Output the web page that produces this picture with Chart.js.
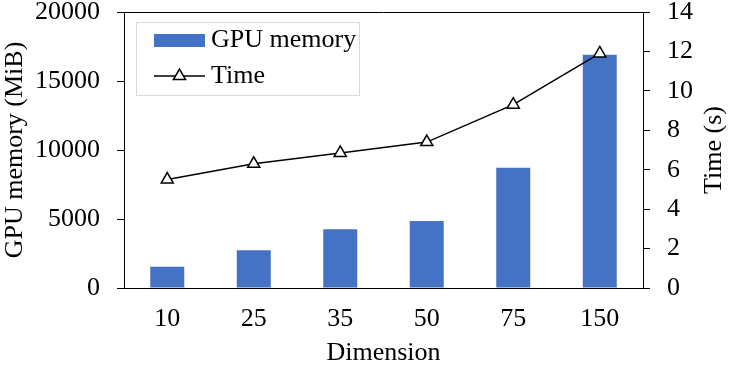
<!DOCTYPE html>
<html>
<head>
<meta charset="utf-8">
<script src="https://cdn.jsdelivr.net/npm/chart.js@4/dist/chart.umd.min.js"></script>
<style>
html,body{margin:0;padding:0;background:#fff;}
#wrap{width:730px;height:368px;position:relative;}
</style>
</head>
<body>
<div id="wrap"><canvas id="c" width="730" height="368"></canvas></div>
<script>
const categories = ["10", "25", "35", "50", "75", "150"];
const gpuMemory = [1540, 2730, 4250, 4850, 8720, 16900];
const timeSec = [5.5, 6.3, 6.85, 7.4, 9.3, 11.9];
const memoryTicks = [0, 5000, 10000, 15000, 20000];
const timeTicks = [0, 2, 4, 6, 8, 10, 12, 14];
const rightTitle = 'Time (s)';

const FONT = "'Liberation Serif', 'Times New Roman', serif";
const BLUE = '#4472C4';

const extras = {
  id: 'extras',
  afterDraw(chart) {
    const ctx = chart.ctx;
    const a = chart.chartArea;
    ctx.save();
    ctx.strokeStyle = '#000';
    ctx.lineWidth = 1;
    ctx.beginPath();
    ctx.moveTo(a.left, a.top + 0.5);
    ctx.lineTo(a.right, a.top + 0.5);
    ctx.stroke();
    ctx.save();
    ctx.translate(714, (a.top + a.bottom) / 2);
    ctx.rotate(-Math.PI / 2);
    ctx.fillStyle = '#000';
    ctx.font = '26px ' + FONT;
    ctx.textAlign = 'center';
    ctx.textBaseline = 'middle';
    ctx.fillText(rightTitle, 0, 0);
    ctx.restore();
    const bx = 136, by = 22, bw = 223, bh = 73;
    ctx.strokeStyle = '#d9d9d9';
    ctx.lineWidth = 1;
    ctx.fillStyle = '#fff';
    ctx.fillRect(bx, by, bw, bh);
    ctx.strokeRect(bx + 0.5, by + 0.5, bw, bh);
    const ds0 = chart.data.datasets[0];
    const ds1 = chart.data.datasets[1];
    ctx.fillStyle = BLUE;
    ctx.fillRect(154, 34, 51, 13);
    ctx.strokeStyle = '#000';
    ctx.lineWidth = 1.5;
    ctx.beginPath();
    ctx.moveTo(154, 76);
    ctx.lineTo(205, 76);
    ctx.stroke();
    const r = 7, cx = 179.5, cy = 76;
    ctx.beginPath();
    ctx.moveTo(cx, cy - r);
    ctx.lineTo(cx + r * Math.cos(Math.PI / 6), cy + r * 0.5);
    ctx.lineTo(cx - r * Math.cos(Math.PI / 6), cy + r * 0.5);
    ctx.closePath();
    ctx.fillStyle = '#fff';
    ctx.fill();
    ctx.stroke();
    ctx.fillStyle = '#000';
    ctx.font = '26px ' + FONT;
    ctx.textBaseline = 'middle';
    ctx.textAlign = 'left';
    ctx.fillText(ds0.label, 211, 40);
    ctx.fillText(ds1.label, 211, 76);
    ctx.restore();
  }
};

new Chart(document.getElementById('c'), {
  data: {
    labels: categories,
    datasets: [
      {
        type: 'bar',
        label: 'GPU memory',
        data: gpuMemory,
        backgroundColor: BLUE,
        yAxisID: 'y',
        barPercentage: 0.393,
        categoryPercentage: 1.0,
        order: 2
      },
      {
        type: 'line',
        label: 'Time',
        data: timeSec,
        borderColor: '#000',
        borderWidth: 1.5,
        pointStyle: 'triangle',
        pointRadius: 7,
        pointBackgroundColor: '#fff',
        pointBorderColor: '#000',
        pointBorderWidth: 1.5,
        yAxisID: 'y1',
        order: 1,
        tension: 0
      }
    ]
  },
  options: {
    responsive: false,
    animation: false,
    devicePixelRatio: 1,
    layout: { padding: { top: 12, left: 0, right: 0, bottom: 0 } },
    plugins: {
      legend: { display: false },
      tooltip: { enabled: false }
    },
    scales: {
      x: {
        grid: { display: false },
        border: { display: true, color: '#000', width: 1 },
        ticks: { color: '#000', font: { family: FONT, size: 26 }, padding: 8, maxRotation: 0 },
        title: { display: true, text: 'Dimension', color: '#000', font: { family: FONT, size: 26, lineHeight: 1 }, padding: { top: 0, bottom: 2 } },
        afterFit(s) { s.height = 80; s.paddingLeft = 0; s.paddingRight = 0; }
      },
      y: {
        position: 'left',
        min: 0, max: 20000,
        afterBuildTicks(s) { s.ticks = memoryTicks.map(v => ({ value: v })); },
        grid: { drawOnChartArea: false, drawTicks: true, tickLength: 7, color: '#000' },
        border: { display: true, color: '#000', width: 1 },
        ticks: { color: '#000', font: { family: FONT, size: 26 }, padding: 17, callback: v => String(v) },
        title: { display: true, text: 'GPU memory (MiB)', color: '#000', font: { family: FONT, size: 26 }, padding: 0 },
        afterFit(s) { s.width = 124; s.paddingTop = 0; s.paddingBottom = 0; }
      },
      y1: {
        position: 'right',
        min: 0, max: 14,
        afterBuildTicks(s) { s.ticks = timeTicks.map(v => ({ value: v })); },
        grid: { drawOnChartArea: false, drawTicks: true, tickLength: 7, color: '#000' },
        border: { display: true, color: '#000', width: 1 },
        ticks: { color: '#000', font: { family: FONT, size: 26 }, padding: 17, callback: v => String(v) },
        title: { display: false },
        afterFit(s) { s.width = 87; s.paddingTop = 0; s.paddingBottom = 0; }
      }
    }
  },
  plugins: [extras]
});
</script>
</body>
</html>
